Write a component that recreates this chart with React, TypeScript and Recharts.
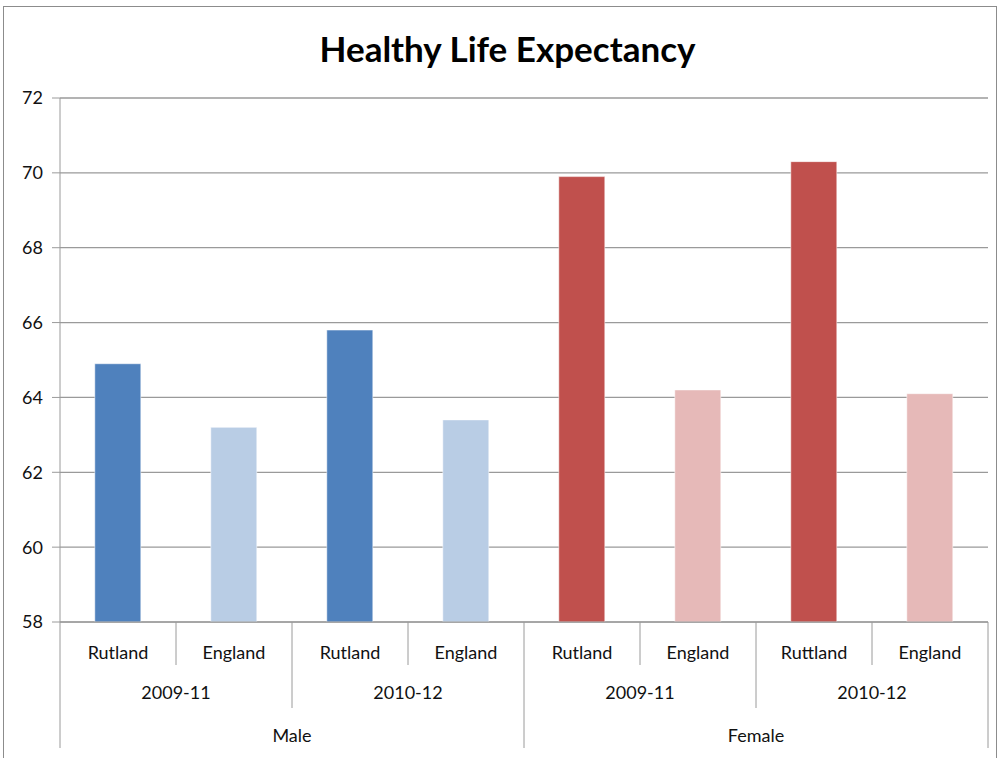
import { BarChart, Bar, XAxis, YAxis, CartesianGrid, Cell } from "recharts";

const regions = ["Rutland", "England", "Rutland", "England", "Rutland", "England", "Ruttland", "England"];
const periods = ["2009-11", "2009-11", "2010-12", "2010-12", "2009-11", "2009-11", "2010-12", "2010-12"];
const sexes = ["Male", "Male", "Male", "Male", "Female", "Female", "Female", "Female"];
const values = [64.9, 63.2, 65.8, 63.4, 69.9, 64.2, 70.3, 64.1];
const yTicks = [58, 60, 62, 64, 66, 68, 70, 72];

const COLORS = ["#4F81BD", "#B9CDE5", "#4F81BD", "#B9CDE5", "#C0504D", "#E6B9B8", "#C0504D", "#E6B9B8"];

const data = regions.map((r, i) => ({
  key: `${sexes[i]}|${periods[i]}|${r}|${i}`,
  region: r,
  period: periods[i],
  sex: sexes[i],
  value: values[i],
}));

const W = 1000;
const H = 758;
const MARGIN = { top: 98, right: 12, bottom: 0, left: 8 };
const Y_W = 52;
const SLOT = (W - MARGIN.left - MARGIN.right - Y_W) / data.length;
const FONT = "Lato, 'Open Sans', sans-serif";
const LINE = "#9a9a9a";
const TEXT = "#111";

const MultiTick = (props: any) => {
  const { x, y, payload } = props;
  const i = payload.index;
  const d = data[i];
  const half = SLOT / 2;
  const n = data.length;
  const divLen = (k: number) => (k % 4 === 0 ? 126 : k % 2 === 0 ? 86 : 43);
  return (
    <g>
      {i === 0 && <line x1={x - half} y1={y} x2={x - half} y2={y + 126} stroke={LINE} />}
      <line x1={x + half} y1={y} x2={x + half} y2={y + divLen(i + 1 === n ? 4 : i + 1)} stroke={LINE} />
      <text x={x} y={y + 37} textAnchor="middle" fontSize={18} fill={TEXT} fontFamily={FONT}>
        {d.region}
      </text>
      {i % 2 === 0 && (
        <text x={x + half} y={y + 77} textAnchor="middle" fontSize={18} fill={TEXT} fontFamily={FONT}>
          {d.period}
        </text>
      )}
      {i % 4 === 0 && (
        <text x={x + 3 * half} y={y + 120} textAnchor="middle" fontSize={18} fill={TEXT} fontFamily={FONT}>
          {d.sex}
        </text>
      )}
    </g>
  );
};

export default function App() {
  return (
    <div style={{ position: "absolute", left: 0, top: 0, width: W, height: H, background: "#fff", fontFamily: FONT }}>
      <div
        style={{
          position: "absolute",
          left: 3,
          top: 6,
          width: 994,
          height: H,
          borderTop: "1px solid #8c8c8c",
          borderLeft: "1px solid #8c8c8c",
          borderRight: "1px solid #8c8c8c",
          boxSizing: "border-box",
        }}
      />
      <div
        style={{
          position: "absolute",
          left: 0,
          top: 27,
          width: 1015,
          textAlign: "center",
          fontSize: 35,
          fontWeight: 700,
          color: "#000",
        }}
      >
        Healthy Life Expectancy
      </div>
      <div style={{ position: "absolute", left: 0, top: 0 }}>
        <BarChart width={W} height={H} data={data} margin={MARGIN} barCategoryGap="30%">
          <CartesianGrid vertical={false} stroke={LINE} strokeWidth={1.3} />
          <XAxis
            dataKey="key"
            interval={0}
            height={136}
            tickLine={false}
            tickSize={0}
            tickMargin={0}
            axisLine={{ stroke: LINE }}
            tick={(p: any) => <MultiTick {...p} />}
          />
          <YAxis
            width={Y_W}
            domain={[58, 72]}
            ticks={yTicks}
            interval={0}
            allowDataOverflow
            axisLine={{ stroke: LINE }}
            tickLine={{ stroke: LINE }}
            tickSize={8}
            tickMargin={9}
            tick={{ fontSize: 18, fill: TEXT, fontFamily: FONT }}
          />
          <Bar dataKey="value" isAnimationActive={false} stroke="rgba(255,255,255,0.5)">
            {data.map((_, i) => (
              <Cell key={`c-${i}`} fill={COLORS[i]} />
            ))}
          </Bar>
        </BarChart>
      </div>
    </div>
  );
}
